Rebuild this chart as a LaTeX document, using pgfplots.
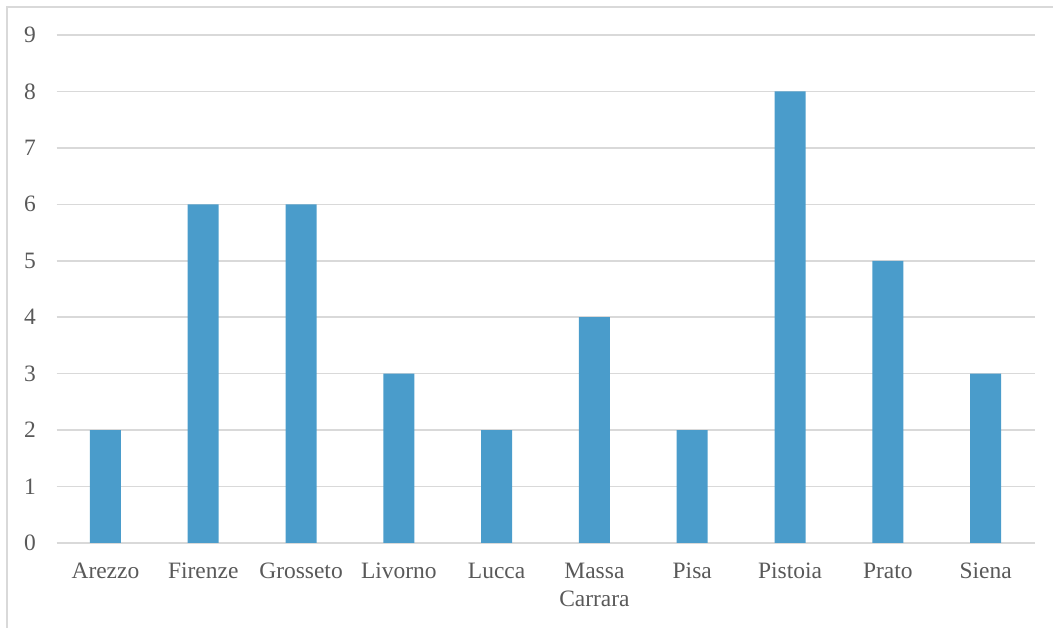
\documentclass[border=0pt]{standalone}
\usepackage{fontspec}
\setmainfont{Liberation Serif}
\usepackage{pgfplots}
\pgfplotsset{compat=1.18}
\definecolor{barblue}{HTML}{4A9CCB}
\definecolor{gridgray}{HTML}{D9D9D9}
\definecolor{txtgray}{HTML}{595959}
\begin{document}
\begin{tikzpicture}
\useasboundingbox (0pt,0pt) rectangle (789.75pt,471pt);
\draw[gridgray, line width=1.1pt] (5.25pt,-15pt) -- (5.25pt,465.75pt) -- (810pt,465.75pt);
\begin{axis}[
  at={(42.4pt,63.75pt)}, anchor=south west,
  scale only axis, width=733.5pt, height=381pt,
  xmin=-0.5, xmax=9.5, ymin=0, ymax=9,
  ytick={0,...,9}, xtick={0,...,9},
  xticklabels={Arezzo,Firenze,Grosseto,Livorno,Lucca,{Massa\\Carrara},Pisa,Pistoia,Prato,Siena},
  axis line style={draw=none},
  tick style={draw=none},
  major tick length=0pt,
  ymajorgrids, grid style={gridgray, line width=1.1pt},
  ybar, bar width=23.25pt,
  yticklabel style={anchor=east, inner sep=0pt, xshift=-15.4pt, font=\fontsize{17.6}{21}\selectfont, text=txtgray},
  xticklabel style={anchor=north, align=center, inner sep=0pt, yshift=-15pt, font=\fontsize{17.6}{21}\selectfont, text=txtgray},
  /pgf/number format/assume math mode=true,
]
\addplot[fill=barblue, draw=none] coordinates {(0,2) (1,6) (2,6) (3,3) (4,2) (5,4) (6,2) (7,8) (8,5) (9,3)};
\end{axis}
\end{tikzpicture}
\end{document}
